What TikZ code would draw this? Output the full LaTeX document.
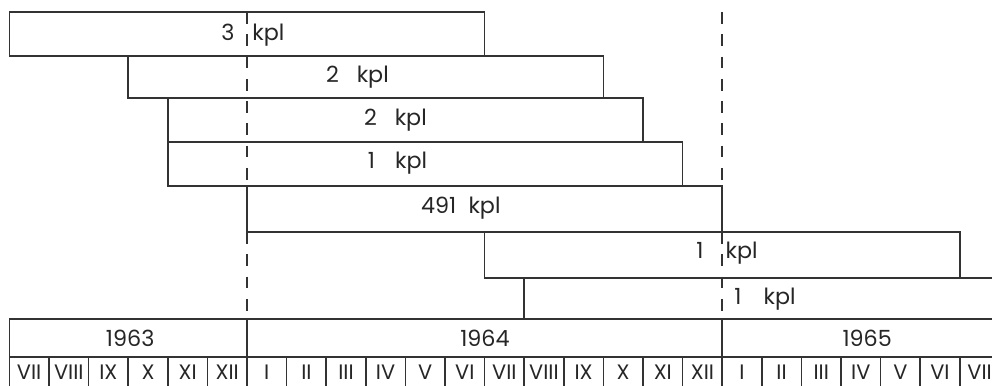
\documentclass[tikz,border=0pt]{standalone}
\usepackage{fontspec}
\setmainfont{Poppins}
\usetikzlibrary{positioning}

\begin{document}
\begin{tikzpicture}[x=1cm, y=1cm,
    bar/.style={draw=black!80, line width=1.2pt},
    cut/.style={draw=black!80, line width=1.2pt, dash pattern=on 8.5pt off 7.5pt},
    lab/.style={font=\fontsize{16}{18}\selectfont, text=black!85, inner sep=0pt},
    mon/.style={font=\fontsize{15}{17}\selectfont, text=black!85, inner sep=0pt}]

\useasboundingbox (-6.237,0) rectangle (18.813,9.747);

\draw[bar] (-6,8.333) rectangle (6,9.444);
\draw[bar] (-3,7.273) rectangle (9,8.333);
\draw[bar] (-2,6.162) rectangle (10,7.273);
\draw[bar] (-2,5.051) rectangle (11,6.162);
\draw[bar] (0,3.889) rectangle (12,5.051);
\draw[bar] (6,2.727) rectangle (18,3.889);
\draw[bar] (18.813,2.727) -| (7,1.692);

\coordinate (a1) at (0,9.444);  \coordinate (a2) at (0,5.051);
\coordinate (a3) at (0,3.889);  \coordinate (a4) at (0,1.692);
\coordinate (b1) at (12,9.444); \coordinate (b2) at (12,5.051);
\coordinate (b3) at (12,3.889); \coordinate (b4) at (12,1.692);
\draw[cut] (a1) -- (a2) (a3) -- (a4);
\draw[cut] (b1) -- (b2) (b3) -- (b4);

\node[lab] (k1) at (0.15,8.864) {3\hspace{0.8em}kpl};
\node[lab] (k2) at (2.79,7.803) {2\hspace{0.8em}kpl};
\node[lab] (k3) at (3.75,6.717) {2\hspace{0.8em}kpl};
\node[lab] (k4) at (3.80,5.631) {1\hspace{0.9em}kpl};
\node[lab] (k5) at (5.40,4.495) {491\hspace{0.55em}kpl};
\node[lab] (k6) at (12.12,3.359) {1\hspace{1em}kpl};
\node[lab] (k7) at (13.08,2.197) {1\hspace{1em}kpl};

\draw[bar] (18.813,1.692) -| (-6,0) (-6,0.732) -- (18.813,0.732);
\draw[bar] (0,1.692) -- (0,0) (12,1.692) -- (12,0);
\foreach \m in {-5,...,18} \draw[bar] (\m,0.732) -- (\m,0);

\node[lab] (y63) at (-2.95,1.212) {1963};
\node[lab] (y64) at (6.01,1.212) {1964};
\node[lab] (y65) at (15.66,1.212) {1965};

\foreach \r [count=\i] in {VII,VIII,IX,X,XI,XII,I,II,III,IV,V,VI,VII,VIII,IX,X,XI,XII,I,II,III,IV,V,VI,VII}
  \node[mon] (m\i) at (\i-6.5,0.36) {\r};
\end{tikzpicture}
\end{document}
